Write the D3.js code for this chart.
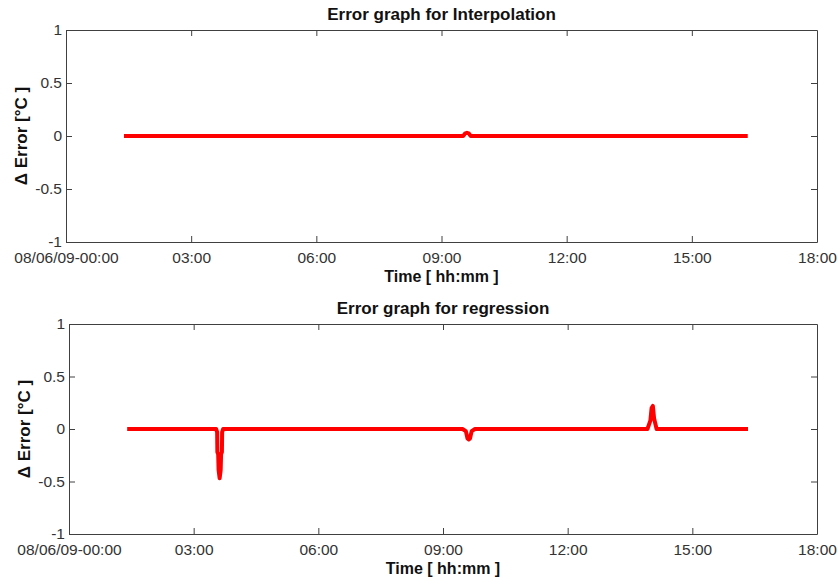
<!DOCTYPE html>
<html>
<head>
<meta charset="utf-8">
<script src="https://cdn.jsdelivr.net/npm/d3@7"></script>
<style>
  html, body { margin: 0; padding: 0; background: #fff; }
  svg { display: block; font-family: "Liberation Sans", Arial, sans-serif; }
</style>
</head>
<body>
<svg id="chart" width="838" height="581"></svg>
<script>
// Error samples: time in decimal hours after midnight, error in °C
const interpHours = [1.39, 9.52, 9.57, 9.61, 9.65, 9.70, 16.34];
const interpError = [0, 0, 0.025, 0.03, 0.025, 0, 0];

const regHours = [1.40, 3.54, 3.565, 3.57, 3.59, 3.60, 3.625, 3.65, 3.66, 3.68, 3.685, 3.71,
                  9.47, 9.55, 9.59, 9.62, 9.65, 9.69, 9.77,
                  13.92, 13.99, 14.02, 14.05, 14.08, 14.14, 16.34];
const regError = [0, 0, -0.03, -0.22, -0.24, -0.39, -0.47, -0.39, -0.24, -0.22, -0.03, 0,
                  0, -0.02, -0.09, -0.10, -0.09, -0.02, 0,
                  0, 0.08, 0.20, 0.22, 0.10, 0, 0];

const yTicks = [-1, -0.5, 0, 0.5, 1];
const xTickHours = [0, 3, 6, 9, 12, 15, 18];
const firstTickLabel = "08/06/09-00:00";

const titles = ["Error graph for Interpolation", "Error graph for regression"];
const xLabel = "Time [ hh:mm ]";
const yLabel = "\u0394 Error [\u00B0C ]";

const day = new Date(2009, 5, 8, 0, 0, 0);
const toDate = h => new Date(day.getTime() + h * 3600 * 1000);

const svg = d3.select("#chart");

const panels = [
  { box: { l: 66, r: 817, t: 30, b: 242 }, hours: interpHours, err: interpError, title: titles[0], ylx: 27 },
  { box: { l: 69, r: 817, t: 324, b: 534 }, hours: regHours, err: regError, title: titles[1], ylx: 30 }
];

const axisColor = "#404040";
const textColor = "#333";
const tickLen = 6;

panels.forEach(p => {
  const { l, r, t, b } = p.box;
  const x = d3.scaleTime().domain([toDate(0), toDate(18)]).range([l, r]);
  const y = d3.scaleLinear().domain([-1, 1]).range([b, t]);
  const g = svg.append("g");

  const fmt = d => (d.getTime() === day.getTime() ? firstTickLabel : d3.timeFormat("%H:%M")(d));
  const xt = xTickHours.map(toDate);

  // bottom axis, ticks pointing into the plot
  const bottomAxis = d3.axisBottom(x).tickValues(xt).tickFormat(fmt).tickSizeInner(-tickLen).tickSizeOuter(0).tickPadding(10);
  const gx = g.append("g").attr("transform", `translate(0,${b})`).call(bottomAxis);
  // top edge ticks
  const topAxis = d3.axisTop(x).tickValues(xt).tickFormat("").tickSizeInner(-tickLen).tickSizeOuter(0);
  const gxt = g.append("g").attr("transform", `translate(0,${t})`).call(topAxis);
  // left axis (plain hyphen for negatives)
  const leftAxis = d3.axisLeft(y).tickValues(yTicks).tickFormat(d => String(d)).tickSizeInner(-tickLen).tickSizeOuter(0).tickPadding(4);
  const gy = g.append("g").attr("transform", `translate(${l},0)`).call(leftAxis);
  // right edge ticks
  const rightAxis = d3.axisRight(y).tickValues(yTicks).tickFormat("").tickSizeInner(-tickLen).tickSizeOuter(0);
  const gyr = g.append("g").attr("transform", `translate(${r},0)`).call(rightAxis);

  [gx, gxt, gy, gyr].forEach(a => {
    a.select(".domain").attr("stroke", axisColor).attr("stroke-width", 1);
    a.selectAll(".tick line").attr("stroke", axisColor).attr("stroke-width", 1);
    a.selectAll(".tick text").attr("fill", textColor).style("font-size", "15.5px")
      .style("font-family", '"Liberation Sans", Arial, sans-serif');
  });
  // drop the extreme top/right ticks that sit on the frame corners
  gxt.selectAll(".tick line").filter((d, i) => i === 0 || i === xt.length - 1).remove();
  gyr.selectAll(".tick line").filter((d, i) => i === 0 || i === yTicks.length - 1).remove();

  // error trace
  const pts = p.hours.map((h, i) => [toDate(h), p.err[i]]);
  const line = d3.line().x(d => x(d[0])).y(d => y(d[1]));
  g.append("path")
    .datum(pts)
    .attr("d", line)
    .attr("fill", "none")
    .attr("stroke", "#ff0000")
    .attr("stroke-width", 4)
    .attr("stroke-linejoin", "round")
    .attr("stroke-linecap", "butt");

  // title
  g.append("text")
    .attr("x", (l + r) / 2)
    .attr("y", t - 10)
    .attr("text-anchor", "middle")
    .attr("fill", "#111")
    .style("font-size", "17px")
    .style("font-weight", "bold")
    .text(p.title);

  // x label
  g.append("text")
    .attr("x", (l + r) / 2)
    .attr("y", b + 40)
    .attr("text-anchor", "middle")
    .attr("fill", "#111")
    .style("font-size", "16px")
    .style("font-weight", "bold")
    .text(xLabel);

  // y label
  g.append("text")
    .attr("transform", `translate(${p.ylx},${(t + b) / 2}) rotate(-90)`)
    .attr("text-anchor", "middle")
    .attr("fill", "#111")
    .style("font-size", "17px")
    .style("font-weight", "bold")
    .text(yLabel);
});
</script>
</body>
</html>
